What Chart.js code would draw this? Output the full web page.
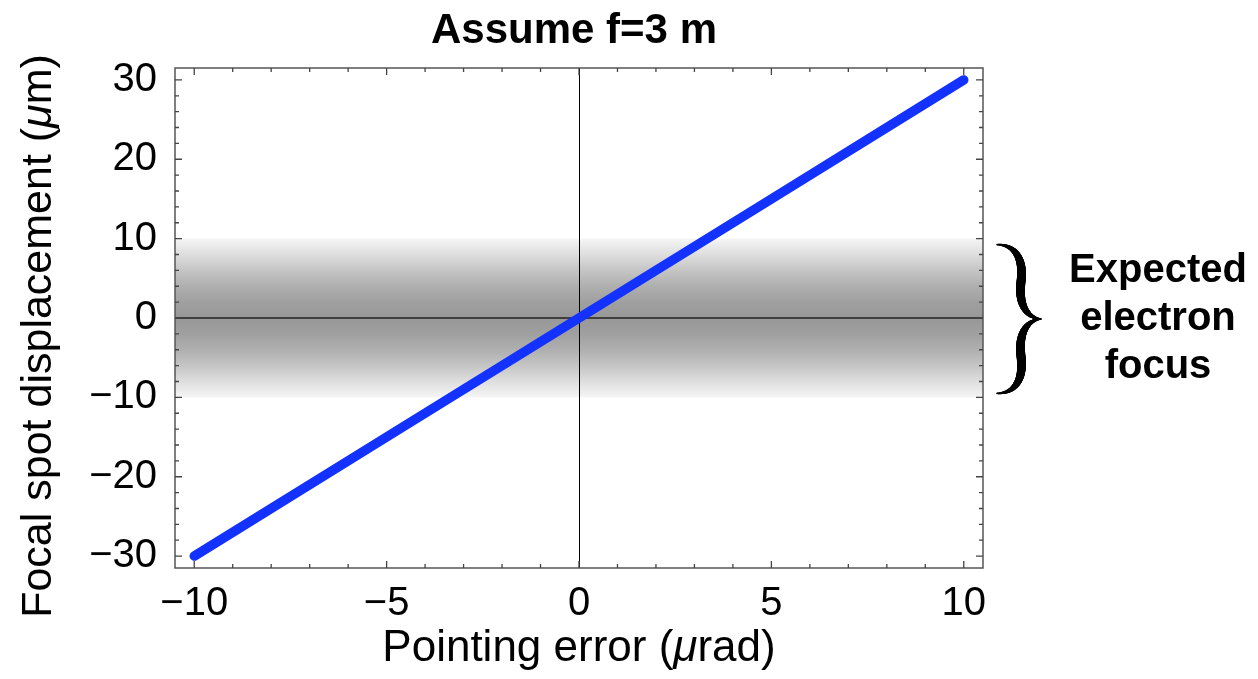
<!DOCTYPE html>
<html>
<head>
<meta charset="utf-8">
<script src="https://cdn.jsdelivr.net/npm/chart.js@4"></script>
<style>
  html, body { margin: 0; padding: 0; background: #ffffff; }
  #wrap { width: 1258px; height: 679px; }
</style>
</head>
<body>
<div id="wrap"><canvas id="c" width="1258" height="679"></canvas></div>
<script>
// ---- data ----
const pointingError = [-10, -5, 0, 5, 10];            // µrad
const spotDisplacement = [-30, -15, 0, 15, 30];       // µm
const xTickLabels = [-10, -5, 0, 5, 10];
const yTickLabels = [-30, -20, -10, 0, 10, 20, 30];
const focusBand = [-10, 10];                          // expected electron focus (µm)
const xRange = [-10.5, 10.5];
const yRange = [-31.5, 31.5];
const xMinorStep = 1;
const yMinorStep = 2;
const titleText = 'Assume f=3 m';
const annotationLines = ['Expected', 'electron', 'focus'];

const FONT = '"Liberation Sans", Arial, Helvetica, sans-serif';
const fmt = v => (v < 0 ? '\u2212' + Math.abs(v) : String(v));

function steps(a, b, s) { const out = []; for (let v = a; v <= b + 1e-9; v += s) out.push(+v.toFixed(6)); return out; }

function bez(p0, p1, p2, p3, t) {
  const u = 1 - t;
  return [u*u*u*p0[0] + 3*u*u*t*p1[0] + 3*u*t*t*p2[0] + t*t*t*p3[0],
          u*u*u*p0[1] + 3*u*u*t*p1[1] + 3*u*t*t*p2[1] + t*t*t*p3[1]];
}

function drawBraceHalf(ctx, pts, sign, yM) {
  const N = 60;
  const samples = [];
  for (let i = 0; i <= N; i++) samples.push(bez(pts[0], pts[1], pts[2], pts[3], i / N));
  for (let i = 1; i <= N; i++) samples.push(bez(pts[3], pts[4], pts[5], pts[6], i / N));
  const M = samples.length - 1;
  ctx.lineCap = 'round';
  for (let i = 0; i < M; i++) {
    const s = (i + 0.5) / M;
    ctx.lineWidth = 1.5 + 7.5 * Math.pow(Math.sin(Math.PI * s), 1.2);
    ctx.beginPath();
    ctx.moveTo(samples[i][0], yM + sign * samples[i][1]);
    ctx.lineTo(samples[i + 1][0], yM + sign * samples[i + 1][1]);
    ctx.stroke();
  }
}

const decor = {
  id: 'decor',
  beforeDatasetsDraw(chart) {
    const { ctx, chartArea: a, scales: { x, y } } = chart;
    ctx.save();
    const yt = y.getPixelForValue(focusBand[1]);
    const yb = y.getPixelForValue(focusBand[0]);
    const g = ctx.createLinearGradient(0, yt, 0, yb);
    g.addColorStop(0.00, '#f5f5f5');
    g.addColorStop(0.10, '#dedede');
    g.addColorStop(0.20, '#c5c5c5');
    g.addColorStop(0.30, '#afafaf');
    g.addColorStop(0.40, '#a0a0a0');
    g.addColorStop(0.50, '#979797');
    g.addColorStop(0.60, '#a0a0a0');
    g.addColorStop(0.70, '#afafaf');
    g.addColorStop(0.80, '#c5c5c5');
    g.addColorStop(0.90, '#dedede');
    g.addColorStop(1.00, '#f5f5f5');
    ctx.fillStyle = g;
    ctx.fillRect(a.left, yt, a.right - a.left, yb - yt);
    ctx.strokeStyle = '#000';
    ctx.lineWidth = 1;
    const x0 = Math.round(x.getPixelForValue(0)) + 0.5;
    ctx.beginPath(); ctx.moveTo(x0, a.top); ctx.lineTo(x0, a.bottom); ctx.stroke();
    ctx.strokeStyle = '#222';
    ctx.lineWidth = 1.6;
    const y0 = y.getPixelForValue(0);
    ctx.beginPath(); ctx.moveTo(a.left, y0); ctx.lineTo(a.right, y0); ctx.stroke();
    ctx.restore();
  },
  afterDraw(chart) {
    const { ctx, chartArea: a, scales: { x, y } } = chart;
    ctx.save();
    ctx.strokeStyle = '#555';
    ctx.lineWidth = 1.5;
    ctx.strokeRect(a.left, a.top, a.right - a.left, a.bottom - a.top);
    ctx.strokeStyle = '#444';
    ctx.lineWidth = 1.3;
    ctx.beginPath();
    steps(xTickLabels[0], xTickLabels[xTickLabels.length - 1], xMinorStep).forEach(v => {
      const px = x.getPixelForValue(v);
      const L = xTickLabels.includes(v) ? 7 : 4;
      ctx.moveTo(px, a.bottom); ctx.lineTo(px, a.bottom - L);
      ctx.moveTo(px, a.top); ctx.lineTo(px, a.top + L);
    });
    steps(yTickLabels[0], yTickLabels[yTickLabels.length - 1], yMinorStep).forEach(v => {
      const py = y.getPixelForValue(v);
      const L = yTickLabels.includes(v) ? 7 : 4;
      ctx.moveTo(a.left, py); ctx.lineTo(a.left + L, py);
      ctx.moveTo(a.right, py); ctx.lineTo(a.right - L, py);
    });
    ctx.stroke();

    ctx.fillStyle = '#000';
    ctx.textAlign = 'center';
    ctx.textBaseline = 'alphabetic';
    ctx.font = 'bold 42px ' + FONT;
    ctx.fillText(titleText, (a.left + a.right) / 2 - 5, 43);

    drawMixed(ctx, [['Pointing error (', ''], ['\u03bc', 'italic '], ['rad)', '']], 44, (a.left + a.right) / 2, 661);
    ctx.save();
    ctx.translate(51, 336);
    ctx.rotate(-Math.PI / 2);
    drawMixed(ctx, [['Focal spot displacement (', ''], ['\u03bc', 'italic '], ['m)', '']], 43, 0, 0);
    ctx.restore();

    const yT = y.getPixelForValue(focusBand[1]) + 6;
    const yB = y.getPixelForValue(focusBand[0]) - 4;
    const yM = (yT + yB) / 2;
    const h = yM - yT;
    const xL = a.right + 14, xR = a.right + 58;
    const half = [
      [xL, -h], [xL + 18, -h], [xL + 27, -h + 14], [xL + 24, -h * 0.5],
      [xL + 21, -13], [xL + 31, -1], [xR, 0]
    ];
    ctx.strokeStyle = '#000';
    drawBraceHalf(ctx, half, 1, yM);
    drawBraceHalf(ctx, half, -1, yM);

    ctx.fillStyle = '#000';
    ctx.font = 'bold 40px ' + FONT;
    ctx.textAlign = 'center';
    ctx.textBaseline = 'alphabetic';
    const cx = 1158;
    annotationLines.forEach((t, i) => ctx.fillText(t, cx, 282 + i * 48));
    ctx.restore();
  }
};

function drawMixed(ctx, parts, size, cx, by) {
  let total = 0;
  parts.forEach(([t, st]) => { ctx.font = st + size + 'px ' + FONT; total += ctx.measureText(t).width; });
  let xx = cx - total / 2;
  ctx.textAlign = 'left';
  ctx.textBaseline = 'alphabetic';
  ctx.fillStyle = '#000';
  parts.forEach(([t, st]) => { ctx.font = st + size + 'px ' + FONT; ctx.fillText(t, xx, by); xx += ctx.measureText(t).width; });
}

new Chart(document.getElementById('c'), {
  type: 'line',
  data: {
    datasets: [{
      data: pointingError.map((v, i) => ({ x: v, y: spotDisplacement[i] })),
      borderColor: '#1432ff',
      borderWidth: 9.5,
      borderCapStyle: 'round',
      borderJoinStyle: 'round',
      pointRadius: 0,
      tension: 0,
      fill: false
    }]
  },
  options: {
    responsive: false,
    animation: false,
    devicePixelRatio: 1,
    layout: { padding: { top: 68, right: 275, left: 0, bottom: 0 } },
    plugins: { legend: { display: false }, tooltip: { enabled: false }, title: { display: false } },
    scales: {
      x: {
        type: 'linear', min: xRange[0], max: xRange[1],
        afterBuildTicks: s => { s.ticks = xTickLabels.map(v => ({ value: v })); },
        afterFit: s => { s.height = 111; },
        grid: { display: false, drawTicks: false },
        border: { display: false },
        ticks: { font: { size: 40, family: FONT }, color: '#000', padding: 12, maxRotation: 0, autoSkip: false, callback: v => fmt(v) }
      },
      y: {
        type: 'linear', min: yRange[0], max: yRange[1],
        afterBuildTicks: s => { s.ticks = yTickLabels.map(v => ({ value: v })); },
        afterFit: s => { s.width = 175; },
        grid: { display: false, drawTicks: false },
        border: { display: false },
        ticks: { font: { size: 40, family: FONT }, color: '#000', padding: 18, autoSkip: false, callback: v => fmt(v) }
      }
    }
  },
  plugins: [decor]
});
</script>
</body>
</html>
